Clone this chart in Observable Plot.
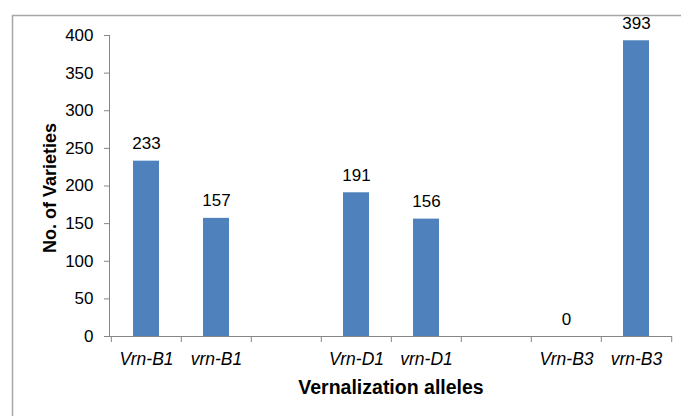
<!DOCTYPE html>
<html>
<head>
<meta charset="utf-8">
<script src="https://cdn.jsdelivr.net/npm/d3@7"></script>
<script src="https://cdn.jsdelivr.net/npm/@observablehq/plot@0.6"></script>
<style>
  html, body { margin: 0; padding: 0; background: #fff; }
  #chart { width: 681px; height: 416px; overflow: hidden; }
</style>
</head>
<body>
<div id="chart"></div>
<script>
// Category slots (blank slots separate the three genes)
const alleles = ["Vrn-B1", "vrn-B1", "gap1", "Vrn-D1", "vrn-D1", "gap2", "Vrn-B3", "vrn-B3"];
const labelledAlleles = ["Vrn-B1", "vrn-B1", "Vrn-D1", "vrn-D1", "Vrn-B3", "vrn-B3"];
const counts = [233, 157, 191, 156, 0, 393];
const yTicks = [0, 50, 100, 150, 200, 250, 300, 350, 400];
const xTitle = "Vernalization alleles";
const yTitle = "No. of Varieties";

const data = labelledAlleles.map((a, i) => ({allele: a, count: counts[i]}));

const W = 681, H = 416;
const mL = 109, mR = 9, mT = 35, mB = 80;
const step = (W - mL - mR) / alleles.length;
const font = "'Liberation Sans', Arial, sans-serif";

const chart = Plot.plot({
  width: W,
  height: H,
  marginLeft: mL,
  marginRight: mR,
  marginTop: mT,
  marginBottom: mB,
  style: {fontFamily: font, color: "#000", background: "transparent"},
  x: {domain: alleles, padding: 0},
  y: {domain: [0, 400]},
  marks: [
    Plot.barY(data, {x: "allele", y: "count", fill: "#4F81BD", insetLeft: 22, insetRight: 22}),
    Plot.ruleY([0], {stroke: "#868686"}),
    Plot.frame({anchor: "left", stroke: "#868686"}),
    // category boundary ticks below the x axis
    Plot.ruleX(alleles, {x: d => d, y1: 0, y2: 0, insetBottom: -6, dx: -step / 2, stroke: "#868686"}),
    Plot.ruleX([alleles[alleles.length - 1]], {x: d => d, y1: 0, y2: 0, insetBottom: -6, dx: step / 2, stroke: "#868686"}),
    Plot.axisX({
      tickSize: 0, tickPadding: 16, fontSize: 17.5, fontStyle: "italic", fill: "#000",
      tickFormat: d => labelledAlleles.includes(d) ? d : "", label: null
    }),
    Plot.axisY({
      ticks: yTicks, tickSize: 5, tickPadding: 11, fontSize: 17, stroke: "#868686", fill: "#000",
      label: null
    }),
    Plot.text(data, {x: "allele", y: "count", text: d => String(d.count), dy: -12, lineAnchor: "bottom", fontSize: 17, fill: "#000"}),
    Plot.text([xTitle], {frameAnchor: "bottom", dy: 57, lineAnchor: "bottom", fontSize: 19.5, fontWeight: "bold", fill: "#000"}),
    Plot.text([yTitle], {frameAnchor: "left", textAnchor: "middle", dx: -54, dy: 2, rotate: -90, lineAnchor: "bottom", fontSize: 18, fontWeight: "bold", fill: "#000"})
  ]
});

// outer chart-area border
d3.select(chart).insert("rect", ":first-child")
  .attr("x", 12.5).attr("y", 15.5)
  .attr("width", W + 20).attr("height", H + 20)
  .attr("fill", "none").attr("stroke", "#a6a6a6").attr("stroke-width", 1.5);

document.getElementById("chart").appendChild(chart);
</script>
</body>
</html>
